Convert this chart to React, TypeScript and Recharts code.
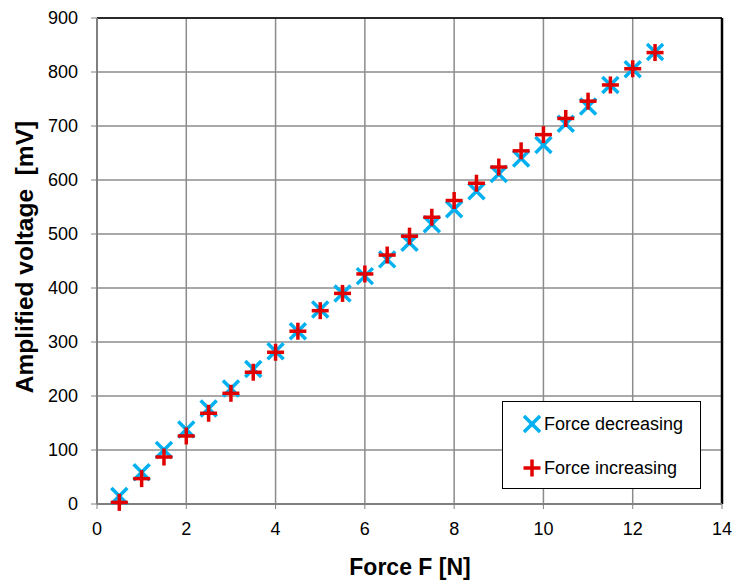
import {
  CartesianGrid,
  Legend,
  ReferenceLine,
  Scatter,
  ScatterChart,
  XAxis,
  YAxis,
} from "recharts";

const BLUE = "#00B0F0";
const RED = "#E00000";
const FONT = "'Liberation Sans', Arial, sans-serif";

// Force steps [N]
const FORCE = [
  0.5, 1, 1.5, 2, 2.5, 3, 3.5, 4, 4.5, 5, 5.5, 6, 6.5, 7, 7.5, 8, 8.5, 9, 9.5, 10,
  10.5, 11, 11.5, 12, 12.5,
];
// Amplified voltage [mV]
const DECREASING = [
  15, 59, 100, 138, 177, 214, 250, 283, 320, 360, 390, 422, 453, 484, 518, 546, 579,
  611, 640, 665, 704, 736, 776, 805, 837,
];
const INCREASING = [
  3, 47, 87, 126, 168, 205, 244, 281, 320, 358, 390, 426, 461, 496, 531, 562, 594,
  624, 654, 684, 714, 746, 776, 806, 836,
];
const X_TICKS = [0, 2, 4, 6, 8, 10, 12, 14];
const Y_TICKS = [0, 100, 200, 300, 400, 500, 600, 700, 800, 900];

const decreasingData = FORCE.map((force, i) => ({ force, voltage: DECREASING[i] }));
const increasingData = FORCE.map((force, i) => ({ force, voltage: INCREASING[i] }));

function CrossMark({ cx, cy }: { cx?: number; cy?: number }) {
  if (cx == null || cy == null) return null;
  const r = 8;
  return (
    <g>
      <line x1={cx - r} y1={cy - r} x2={cx + r} y2={cy + r} stroke={BLUE} strokeWidth={3.5} />
      <line x1={cx - r} y1={cy + r} x2={cx + r} y2={cy - r} stroke={BLUE} strokeWidth={3.5} />
    </g>
  );
}

function PlusMark({ cx, cy }: { cx?: number; cy?: number }) {
  if (cx == null || cy == null) return null;
  const r = 8.5;
  return (
    <g>
      <line x1={cx - r} y1={cy} x2={cx + r} y2={cy} stroke={RED} strokeWidth={3.5} />
      <line x1={cx} y1={cy - r} x2={cx} y2={cy + r} stroke={RED} strokeWidth={3.5} />
    </g>
  );
}

function LegendBox() {
  const row = { display: "flex", alignItems: "center", height: 44, paddingLeft: 20 };
  return (
    <div
      style={{
        border: "1.5px solid #000",
        background: "#fff",
        fontFamily: FONT,
        fontSize: 18,
        color: "#000",
        boxSizing: "border-box",
        height: 88,
      }}
    >
      <div style={row}>
        <svg width={18} height={18} style={{ marginRight: 3 }}>
          <CrossMark cx={9} cy={9} />
        </svg>
        Force decreasing
      </div>
      <div style={row}>
        <svg width={18} height={18} style={{ marginRight: 3 }}>
          <PlusMark cx={9} cy={9} />
        </svg>
        Force increasing
      </div>
    </div>
  );
}

export default function App() {
  return (
    <div style={{ position: "absolute", left: 0, top: 0, background: "#fff" }}>
      <ScatterChart
        width={734}
        height={583}
        margin={{ top: 18, right: 12, bottom: 0, left: 0 }}
      >
        <CartesianGrid stroke="#8c8c8c" strokeWidth={1.5} />
        <XAxis
          type="number"
          dataKey="force"
          domain={[0, 14]}
          ticks={X_TICKS}
          height={79}
          tickSize={5}
          tickMargin={13}
          axisLine={{ stroke: "#808080", strokeWidth: 2 }}
          tickLine={{ stroke: "#808080" }}
          tick={{ fill: "#000", fontSize: 18, fontFamily: FONT }}
          label={{
            content: () => (
              <text
                x={410}
                y={575}
                textAnchor="middle"
                fontFamily={FONT}
                fontWeight="bold"
                fontSize={23}
                fill="#000"
              >
                Force F [N]
              </text>
            ),
          }}
        />
        <YAxis
          type="number"
          dataKey="voltage"
          domain={[0, 900]}
          ticks={Y_TICKS}
          width={97}
          tickSize={6}
          tickMargin={13}
          axisLine={{ stroke: "#808080", strokeWidth: 2 }}
          tickLine={{ stroke: "#808080" }}
          tick={{ fill: "#000", fontSize: 18, fontFamily: FONT }}
          label={{
            content: () => (
              <text
                x={24}
                y={257}
                transform="rotate(-90 24 257)"
                textAnchor="middle"
                dominantBaseline="central"
                fontFamily={FONT}
                fontWeight="bold"
                fontSize={24.5}
                fill="#000"
              >
                {"Amplified voltage\u00A0 [mV]"}
              </text>
            ),
          }}
        />
        <ReferenceLine y={900} stroke="#000" strokeWidth={1.5} />
        <ReferenceLine x={14} stroke="#000" strokeWidth={2.5} />
        <Legend
          layout="vertical"
          align="center"
          verticalAlign="middle"
          wrapperStyle={{ left: 502, top: 401, width: 199, height: 88 }}
          content={() => <LegendBox />}
        />
        <Scatter
          name="Force decreasing"
          data={decreasingData}
          shape={(p: any) => <CrossMark cx={p.cx} cy={p.cy} />}
          isAnimationActive={false}
        />
        <Scatter
          name="Force increasing"
          data={increasingData}
          shape={(p: any) => <PlusMark cx={p.cx} cy={p.cy} />}
          isAnimationActive={false}
        />
      </ScatterChart>
    </div>
  );
}
